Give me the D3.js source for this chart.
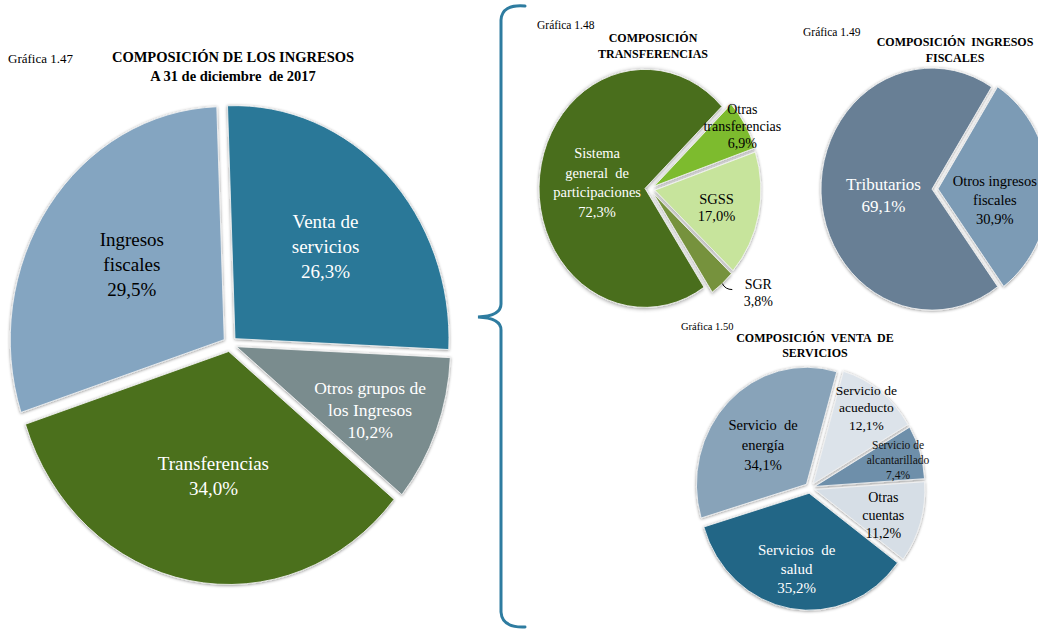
<!DOCTYPE html>
<html><head><meta charset="utf-8">
<script src="https://cdn.jsdelivr.net/npm/d3@7"></script>
<style>body{margin:0;background:#fff}svg{display:block}svg text{font-family:"Liberation Serif","Times New Roman",serif}</style>
</head><body><svg id="c" width="1038" height="630"></svg>
<script>
// ---- data ----
const mainCategories = ["Venta de servicios","Otros grupos de los Ingresos","Transferencias","Ingresos fiscales"];
const mainValues = [26.3,10.2,34.0,29.5];
const transfCategories = ["Sistema general de participaciones","Otras transferencias","SGSS","SGR"];
const transfValues = [72.3,6.9,17.0,3.8];
const fiscalCategories = ["Tributarios","Otros ingresos fiscales"];
const fiscalValues = [69.1,30.9];
const ventaCategories = ["Servicio de acueducto","Servicio de alcantarillado","Otras cuentas","Servicios de salud","Servicio de energía"];
const ventaValues = [12.1,7.4,11.2,35.2,34.1];
const chartNumbers = ["Gráfica 1.47","Gráfica 1.48","Gráfica 1.49","Gráfica 1.50"];
const chartTitles = [["COMPOSICIÓN DE LOS INGRESOS","A 31 de diciembre  de 2017"],["COMPOSICIÓN","TRANSFERENCIAS"],["COMPOSICIÓN  INGRESOS","FISCALES"],["COMPOSICIÓN  VENTA  DE","SERVICIOS"]];

// label line breaks
const labelLines = {
  "Venta de servicios":["Venta de","servicios"],
  "Otros grupos de los Ingresos":["Otros grupos de","los Ingresos"],
  "Transferencias":["Transferencias"],
  "Ingresos fiscales":["Ingresos","fiscales"],
  "Sistema general de participaciones":["Sistema","general  de","participaciones"],
  "Otras transferencias":["Otras","transferencias"],
  "SGSS":["SGSS"],"SGR":["SGR"],
  "Tributarios":["Tributarios"],
  "Otros ingresos fiscales":["Otros ingresos","fiscales"],
  "Servicio de acueducto":["Servicio de","acueducto"],
  "Servicio de alcantarillado":["Servicio de","alcantarillado"],
  "Otras cuentas":["Otras","cuentas"],
  "Servicios de salud":["Servicios  de","salud"],
  "Servicio de energía":["Servicio  de","energía"]
};

const loc = d3.formatLocale({decimal:",",thousands:".",grouping:[3],currency:["$",""]});
const pct = v => loc.format(".1f")(v) + "%";
const FONT = '"Liberation Serif","Times New Roman",serif';

const svg = d3.select("#c");
const defs = svg.append("defs");
defs.append("filter").attr("id","sh").attr("x","-20%").attr("y","-20%").attr("width","140%").attr("height","140%")
  .append("feDropShadow").attr("dx",0).attr("dy",0.6).attr("stdDeviation",1.7)
  .attr("flood-color","#000").attr("flood-opacity",0.45);

function drawPie(o){
  const k = o.ry/o.rx;
  const rad = Math.PI/180;
  const pie = d3.pie().sort(null).value(d=>d.v)
    .startAngle(o.start*rad).endAngle(o.start*rad + 2*Math.PI);
  const arcs = pie(o.cats.map((c,i)=>({c, v:o.vals[i]})));
  const arc = d3.arc().innerRadius(0).outerRadius(o.rx);
  const g = svg.append("g").attr("transform",`translate(${o.cx},${o.cy}) scale(1,${k})`);
  arcs.forEach((a,i)=>{
    const m = (a.startAngle+a.endAngle)/2;
    const ex = Math.sin(m)*o.explode, ey = -Math.cos(m)*o.explode;
    g.append("path").attr("d",arc(a)).attr("transform",`translate(${ex},${ey})`)
      .attr("fill",o.colors[i]).attr("stroke","#f4f4f4").attr("stroke-width",0.8)
      .attr("filter","url(#sh)");
    const la = m + (o.shift[i]||0)*rad;
    const f = o.fracs[i];
    const x = o.cx + ex + Math.sin(la)*f*o.rx;
    const y = o.cy + k*(ey - Math.cos(la)*f*o.rx);
    const lines = (labelLines[a.data.c]||[a.data.c]).concat([pct(a.data.v)]);
    const fs = o.fs[i], lh = o.lh[i];
    const t = svg.append("text").attr("text-anchor","middle").attr("font-size",fs)
      .attr("font-family",FONT).attr("fill",o.tcol[i]).style("white-space","pre");
    lines.forEach((s,j)=>{
      t.append("tspan").attr("x",x).attr("y", y + (j-(lines.length-1)/2)*lh)
        .attr("dominant-baseline","central").text(s);
    });
    if(o.leader && o.leader[i]){
      const px = o.cx + ex + Math.sin(m)*o.rx, py = o.cy + k*(ey - Math.cos(m)*o.rx);
      svg.append("path").attr("d",`M${px},${py} Q${px+3},${py+6} ${px+10},${py+6}`)
        .attr("fill","none").attr("stroke","#000").attr("stroke-width",1);
    }
  });
}

// Main pie 1.47
drawPie({cats:mainCategories, vals:mainValues, cx:230, cy:344, rx:214, ry:233, start:-2, explode:7,
  colors:["#2A7898","#7A8C8E","#4B701C","#84A5C1"], tcol:["#fff","#fff","#fff","#000"],
  fracs:[0.58,0.68,0.54,0.54], shift:[1.5,2.3,-3,2], fs:[19,17.5,19,19], lh:[25,22,25,25]});

// 1.48 transferencias
drawPie({cats:transfCategories, vals:transfValues, cx:650, cy:189, rx:106, ry:119, start:146.2, explode:5,
  colors:["#4A6E1B","#7DBB2D","#C7E49C","#76923C"], tcol:["#fff","#000","#000","#000"],
  fracs:[0.455,0.97,0.6,1.3], shift:[0,0,2.5,-9], fs:[14.5,14,14.5,14], lh:[19.5,17,17,17],
  leader:[false,false,false,true]});

// 1.49 ingresos fiscales
drawPie({cats:fiscalCategories, vals:fiscalValues, cx:935, cy:189, rx:111, ry:121, start:143.7, explode:3,
  colors:["#677F95","#7C9BB5"], tcol:["#fff","#000"],
  fracs:[0.44,0.52], shift:[-5,12], fs:[17,14.5], lh:[22,19]});

// 1.50 venta de servicios
drawPie({cats:ventaCategories, vals:ventaValues, cx:810, cy:488, rx:110, ry:117, start:16, explode:5,
  colors:["#DCE3EA","#6E8FAA","#D6DEE6","#236686","#88A3B9"], tcol:["#000","#111","#000","#fff","#000"],
  fracs:[0.81,0.79,0.66,0.66,0.52], shift:[-1,0.5,3,0,-4], fs:[13.5,11.5,14,15,14.5], lh:[17.5,15,18,19,20]});

// Titles
function title(num, nx, ny, nfs, lines, tx, tys, tfs){
  svg.append("text").attr("x",nx).attr("y",ny).attr("font-size",nfs).attr("font-family",FONT).text(num);
  lines.forEach((s,j)=>svg.append("text").attr("x",tx).attr("y",tys[j]).attr("text-anchor","middle")
    .attr("font-family",FONT).attr("font-size",tfs).attr("font-weight","bold").style("white-space","pre").text(s));
}
title(chartNumbers[0], 8, 63, 13, chartTitles[0], 233, [62,81], 14.5);
title(chartNumbers[1], 537, 29, 11.5, chartTitles[1], 653, [42,58], 12);
title(chartNumbers[2], 803, 36, 11.5, chartTitles[2], 955, [46,62], 12);
title(chartNumbers[3], 681, 330, 10.5, chartTitles[3], 815, [342,357], 12);

// Brace
svg.append("path")
  .attr("d","M525,6 Q502,4 501,20 L501,304 Q501,316 478,317 Q501,318 501,330 L501,612 Q502,628 525,627")
  .attr("fill","none").attr("stroke","#2E7CA0").attr("stroke-width",3).attr("stroke-linecap","round");
</script></body></html>
